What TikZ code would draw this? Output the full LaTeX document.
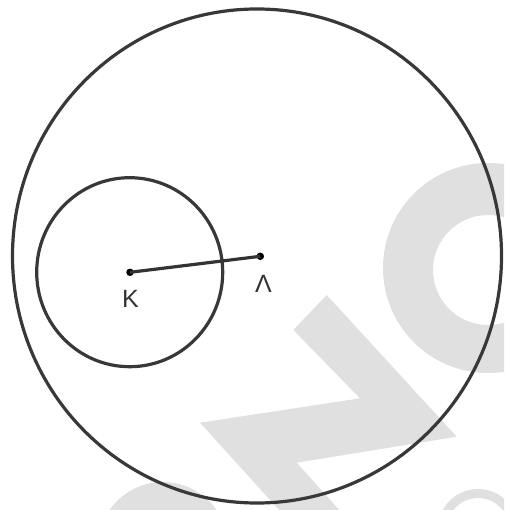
\documentclass[tikz,border=0pt]{standalone}
\usepackage{fontspec}
\setmainfont{Liberation Sans}
\begin{document}
\begin{tikzpicture}[x=1pt,y=-1pt,
  wm/.style={fill=black!12,draw=none},
  ring/.style={draw=black!78,line width=3.2pt},
  seg/.style={draw=black!80,line width=3.2pt},
  dot/.style={circle,fill=black,inner sep=0pt,minimum size=7.5pt},
  lbl/.style={font=\fontsize{25}{25}\selectfont,text=black!80,inner sep=0pt}]
\useasboundingbox (0,0) rectangle (504,510);
\clip (0,0) rectangle (504,510);
% watermark
\fill[wm,even odd rule] (488,268) circle[radius=105] (488,270) circle[radius=55];
\fill[wm] (326.7,295) -- (456.7,436.7) -- (296.7,462.7) -- (360,533) -- (300,533)
  -- (200,422.7) -- (360,398.3) -- (293.3,330) -- cycle;
\fill[wm] (163,547) circle[radius=65];
\fill[wm,even odd rule] (478,529) circle[radius=40] (478,529) circle[radius=31];
% circles
\draw[ring] (257,256) ellipse[x radius=244.5,y radius=247];
\draw[ring] (129.7,272.2) ellipse[x radius=93,y radius=94.5];
% points
\node[dot] (K) at (130,272.3) {};
\node[dot] (L) at (260.3,256.3) {};
\draw[seg] (K.center) -- (L.center);
\node[lbl] (Klbl) at (130.5,298.5) {K};
\node[lbl] (Llbl) at (263.5,284) {Λ};
\end{tikzpicture}
\end{document}
